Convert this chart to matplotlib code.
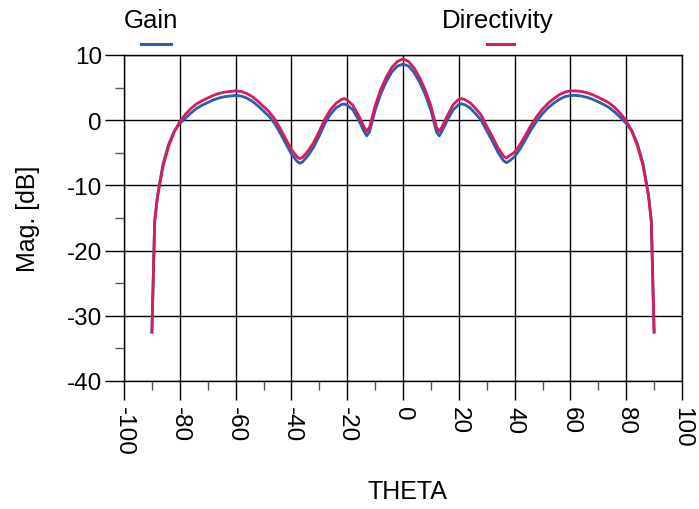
import numpy as np
import matplotlib
matplotlib.use("Agg")
import matplotlib.pyplot as plt
from matplotlib.lines import Line2D
from matplotlib.ticker import MultipleLocator

plt.rcParams["font.family"] = ["Liberation Sans", "DejaVu Sans"]
plt.rcParams["axes.unicode_minus"] = False

# far-field cut, theta in degrees
theta = [-90, -89, -88, -86, -84, -82, -80, -78, -76, -74, -72, -70, -68, -66,
         -64, -62, -60, -58, -56, -54, -52, -50, -48, -46, -44, -42, -40, -38,
         -37, -36, -34, -32, -30, -28, -26, -24, -22, -21, -20, -18, -16, -14,
         -13, -12, -10, -8, -6, -4, -2, 0, 2, 4, 6, 8, 10, 12, 13, 14, 16, 18,
         20, 21, 22, 24, 26, 28, 30, 32, 34, 36, 37, 38, 40, 42, 44, 46, 48, 50,
         52, 54, 56, 58, 60, 62, 64, 66, 68, 70, 72, 74, 76, 78, 80, 82, 84, 86,
         88, 89, 90]

directivity = [-32.5, -15.5, -11.8, -7.0, -4.0, -1.8, -0.2, 0.9, 1.8, 2.5, 3.0,
               3.4, 3.8, 4.1, 4.3, 4.4, 4.5, 4.4, 4.1, 3.6, 2.9, 2.1, 1.3, 0.2,
               -1.3, -2.9, -4.5, -5.6, -5.9, -5.7, -4.7, -3.4, -1.7, 0.2, 1.6,
               2.6, 3.2, 3.3, 3.1, 2.3, 0.8, -1.0, -1.7, -1.1, 2.2, 4.7, 6.6,
               8.1, 9.0, 9.4, 9.0, 8.0, 6.5, 4.6, 2.2, -1.1, -1.7, -1.0, 0.8,
               2.4, 3.2, 3.3, 3.2, 2.7, 1.8, 0.8, -0.9, -2.5, -4.2, -5.5, -5.8,
               -5.5, -4.9, -3.7, -2.2, -0.7, 0.6, 1.7, 2.6, 3.3, 3.9, 4.3, 4.5,
               4.5, 4.4, 4.2, 3.9, 3.5, 3.1, 2.6, 1.9, 1.0, -0.1, -1.7, -3.9,
               -6.9, -11.7, -15.5, -32.5]

gain = [-32.5, -15.5, -11.6, -6.7, -3.7, -1.7, -0.5, 0.3, 1.1, 1.8, 2.3, 2.7,
        3.1, 3.4, 3.6, 3.7, 3.8, 3.7, 3.4, 2.9, 2.2, 1.4, 0.6, -0.5, -2.0, -3.6,
        -5.2, -6.3, -6.6, -6.4, -5.4, -4.1, -2.4, -0.5, 0.9, 1.9, 2.4, 2.5, 2.3,
        1.6, 0.1, -1.7, -2.4, -1.8, 1.5, 4.0, 5.9, 7.4, 8.3, 8.6, 8.3, 7.3, 5.8,
        3.9, 1.5, -1.8, -2.4, -1.7, 0.1, 1.6, 2.4, 2.5, 2.4, 1.9, 1.0, 0.0,
        -1.6, -3.2, -4.9, -6.2, -6.5, -6.3, -5.6, -4.4, -2.9, -1.4, -0.1, 1.0,
        1.9, 2.6, 3.2, 3.6, 3.8, 3.8, 3.7, 3.5, 3.2, 2.8, 2.4, 1.9, 1.2, 0.4,
        -0.5, -1.6, -3.6, -6.6, -11.4, -15.5, -32.5]

BLUE = "#2b5db0"
RED = "#d81b5c"

W, H = 699, 510
fig = plt.figure(figsize=(W / 100, H / 100), dpi=100)
ax = fig.add_axes([124 / W, 1 - 382 / H, 558 / W, 326 / H])

ax.plot(theta, gain, color=BLUE, lw=2.0, solid_joinstyle="round")
ax.plot(theta, directivity, color=RED, lw=2.0, solid_joinstyle="round")

ax.set_xlim(-100, 100)
ax.set_ylim(-40, 10)
ax.xaxis.set_major_locator(MultipleLocator(20))
ax.xaxis.set_minor_locator(MultipleLocator(10))
ax.yaxis.set_major_locator(MultipleLocator(10))
ax.yaxis.set_minor_locator(MultipleLocator(5))
ax.grid(which="major", color="black", lw=1)

ax.tick_params(which="major", length=14, width=1, labelsize=17.5, pad=2)
ax.tick_params(axis="x", which="major", pad=4, labelrotation=-90)
ax.tick_params(which="minor", length=6.5, width=1, color="#555555")
for s in ax.spines.values():
    s.set_color("black")
    s.set_linewidth(1)

fig.text(28 / W, 1 - 219 / H, "Mag. [dB]", rotation=90, ha="center", va="center",
         fontsize=18)
fig.text(407 / W, 1 - 492 / H, "THETA", ha="center", va="center", fontsize=18)

# legend drawn above the plot
fig.text(124 / W, 1 - 21 / H, "Gain", ha="left", va="center", fontsize=18.5)
fig.text(442 / W, 1 - 21 / H, "Directivity", ha="left", va="center", fontsize=18.5)
fig.add_artist(Line2D([141 / W, 171 / W], [1 - 45 / H] * 2, color=BLUE, lw=2.2,
                      transform=fig.transFigure))
fig.add_artist(Line2D([487 / W, 514 / W], [1 - 45 / H] * 2, color=RED, lw=2.2,
                      transform=fig.transFigure))

fig.savefig("out.png", dpi=100)
